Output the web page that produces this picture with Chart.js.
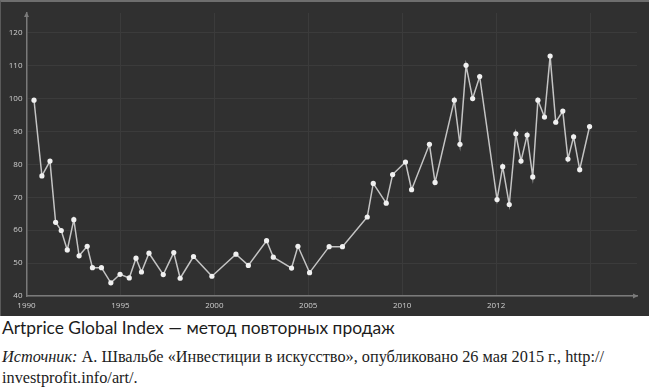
<!DOCTYPE html>
<html>
<head>
<meta charset="utf-8">
<script src="https://cdn.jsdelivr.net/npm/chart.js@4.4.1/dist/chart.umd.min.js"></script>
<style>
  html, body { margin: 0; padding: 0; background: #ffffff; }
  #wrap { position: relative; width: 649px; height: 387px; overflow: hidden; }
  #panel { position: absolute; left: 0; top: 0; width: 649px; height: 316px; background: #303030;
           box-sizing: border-box; border-top: 2px solid #6e6e6e; border-left: 1px solid #5a5a5a; }
  #chartBox { position: absolute; left: 0; top: 0; width: 649px; height: 316px; }
  .cap1 { position: absolute; left: 2px; top: 317px; font-family: Lato, 'Open Sans', sans-serif;
          font-size: 17.4px; color: #1c1c1c; white-space: nowrap; }
  .cap2 { position: absolute; left: 2px; font-family: 'Liberation Serif', 'DejaVu Serif', serif;
          font-size: 16.3px; color: #1c1c1c; white-space: nowrap; }
</style>
</head>
<body>
<div id="wrap">
  <div id="panel"></div>
  <div id="chartBox"><canvas id="c"></canvas></div>
  <div class="cap1" id="title">Artprice Global Index — метод повторных продаж</div>
  <div class="cap2" style="top:347px;"><i>Источник:</i> А. Швальбе «Инвестиции в искусство», опубликовано 26 мая 2015 г., http://</div>
  <div class="cap2" style="top:368px;">investprofit.info/art/.</div>
</div>
<script>
// ---- data ----
const tickYears  = [1990, 1995, 2000, 2005, 2010, 2012, 2014];
const tickLabels = ['1990', '1995', '2000', '2005', '2010', '2012', ''];
const yTicks     = [40, 50, 60, 70, 80, 90, 100, 110, 120];

const years = [1990.40, 1990.82, 1991.25, 1991.55, 1991.85, 1992.17, 1992.52, 1992.80, 1993.23, 1993.51,
               1993.99, 1994.49, 1994.98, 1995.47, 1995.83, 1996.12, 1996.52, 1997.28, 1997.84, 1998.18,
               1998.89, 1999.87, 2001.15, 2001.81, 2002.78, 2003.14, 2004.11, 2004.45, 2005.07, 2006.11,
               2006.82, 2008.14, 2008.46, 2009.15, 2009.49, 2010.07, 2010.20, 2010.58, 2010.70, 2011.11,
               2011.23, 2011.36, 2011.50, 2011.65, 2012.02, 2012.14, 2012.28, 2012.42, 2012.53, 2012.66,
               2012.78, 2012.89, 2013.03, 2013.15, 2013.27, 2013.42, 2013.53, 2013.65, 2013.78, 2013.99];
const values = [99.5, 76.5, 81.0, 62.4, 59.9, 54.0, 63.2, 52.2, 55.1, 48.6,
                48.6, 44.0, 46.6, 45.5, 51.5, 47.3, 53.0, 46.5, 53.2, 45.4,
                52.0, 46.0, 52.7, 49.3, 56.8, 51.8, 48.5, 55.1, 47.1, 55.0,
                55.0, 64.0, 74.2, 68.2, 76.9, 80.7, 72.3, 86.1, 74.5, 99.5,
                86.1, 110.1, 100.0, 106.7, 69.3, 79.3, 67.8, 89.3, 81.0, 88.9,
                76.2, 99.5, 94.4, 112.9, 92.8, 96.2, 81.6, 88.4, 78.4, 91.5];

// The axis spaces its labelled years evenly (piecewise), so map a year onto that index scale.
function yearToPos(y) {
  for (let i = 0; i < tickYears.length - 1; i++) {
    const a = tickYears[i], b = tickYears[i + 1];
    if (y <= b || i === tickYears.length - 2) return i + (y - a) / (b - a);
  }
  return 0;
}
const points = years.map((y, i) => ({ x: yearToPos(y), y: values[i] }));

const AXIS = '#7a7a7a';
const arrows = {
  id: 'arrows',
  afterDraw(chart) {
    const { ctx, chartArea: a } = chart;
    ctx.save();
    ctx.fillStyle = AXIS;
    ctx.beginPath();
    ctx.moveTo(a.left - 2.5, a.top + 4); ctx.lineTo(a.left + 2.5, a.top + 4); ctx.lineTo(a.left, a.top - 1);
    ctx.closePath(); ctx.fill();
    ctx.beginPath();
    ctx.moveTo(a.right - 4, a.bottom - 2.5); ctx.lineTo(a.right - 4, a.bottom + 2.5); ctx.lineTo(a.right + 1, a.bottom);
    ctx.closePath(); ctx.fill();
    ctx.restore();
  }
};

new Chart(document.getElementById('c'), {
  type: 'line',
  data: {
    datasets: [{
      data: points,
      borderColor: '#c4c4c4',
      borderWidth: 1.5,
      pointRadius: 2.6,
      pointBackgroundColor: '#f0f0f0',
      pointBorderWidth: 0,
      tension: 0,
      fill: false
    }]
  },
  options: {
    responsive: true,
    maintainAspectRatio: false,
    animation: false,
    events: [],
    layout: { padding: { top: 13, right: 12, left: 0, bottom: 0 } },
    plugins: { legend: { display: false }, tooltip: { enabled: false } },
    scales: {
      x: {
        type: 'linear',
        min: 0, max: 6.5,
        afterBuildTicks(s) { s.ticks = tickLabels.map((_, i) => ({ value: i })); },
        afterFit(s) { s.height = 20; },
        ticks: {
          callback: (v) => tickLabels[v] ?? '',
          color: '#cfcfcf', font: { family: 'Open Sans', size: 8 }, padding: 5,
          maxRotation: 0, autoSkip: false
        },
        grid: { color: '#3b3b3b', lineWidth: 1, drawTicks: false },
        border: { color: AXIS, width: 1.5 }
      },
      y: {
        type: 'linear',
        min: 40, max: 126,
        afterBuildTicks(s) { s.ticks = yTicks.map(v => ({ value: v })); },
        afterFit(s) { s.width = 26.5; },
        ticks: {
          color: '#cfcfcf', font: { family: 'Open Sans', size: 8 }, padding: 4
        },
        grid: { color: '#3b3b3b', lineWidth: 1, drawTicks: false },
        border: { color: AXIS, width: 1.5 }
      }
    }
  },
  plugins: [arrows]
});
</script>
</body>
</html>
